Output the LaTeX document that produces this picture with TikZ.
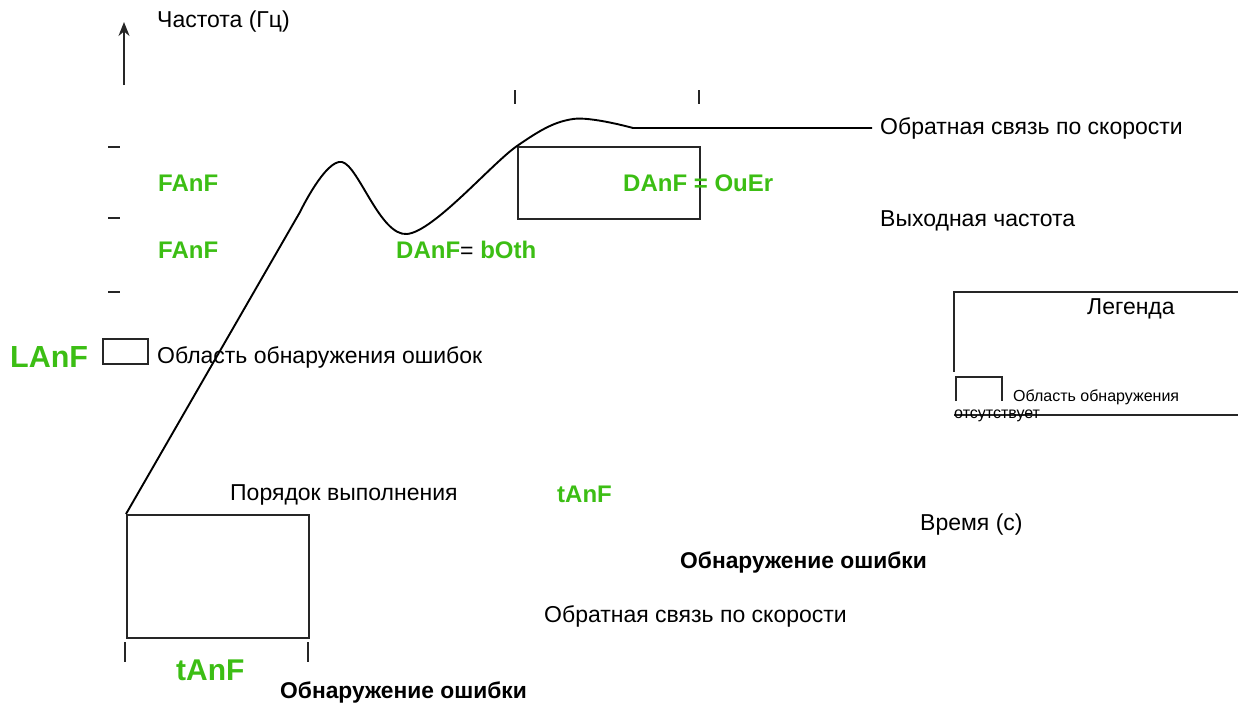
\documentclass[tikz,border=0pt]{standalone}
\usepackage{fontspec}
\setmainfont{Liberation Sans}
\usetikzlibrary{arrows.meta}
\definecolor{grn}{RGB}{60,190,20}
\tikzset{
  lbl/.style={inner sep=0pt, anchor=west, font=\fontsize{23}{27}\selectfont},
  glbl/.style={inner sep=0pt, anchor=west, text=grn, font=\fontsize{24}{28}\selectfont\bfseries},
  blbl/.style={inner sep=0pt, anchor=west, font=\fontsize{22.8}{27}\selectfont\bfseries},
  sml/.style={inner sep=0pt, anchor=west, font=\fontsize{16}{19}\selectfont},
  ln/.style={line width=1.8pt, black!85},
  crv/.style={line width=1.9pt, black},
}
\begin{document}
\begin{tikzpicture}[x=1pt,y=-1pt]
\useasboundingbox (0,0) rectangle (1238,704);
% axis
\coordinate (ab) at (124,85);
\coordinate (at) at (124,22);
\draw[ln,-{Stealth[length=14pt,width=11pt]}] (ab) -- (at);
\node[lbl] (freq) at (157,22) {Частота (Гц)};
% y ticks
\foreach \y in {147,218,292} \draw[ln] (108,\y) -- (120,\y);
% top ticks
\foreach \x in {515,699} \draw[ln] (\x,90) -- (\x,104);
% upper box
\node[draw, ln, minimum width=182pt, minimum height=72pt, anchor=north west, inner sep=0pt] (ubox) at (517,146) {};
% bottom box
\node[draw, ln, minimum width=182pt, minimum height=123pt, anchor=north west, inner sep=0pt] (bbox) at (126,514) {};
\draw[ln] (125,642) -- (125,662);
\draw[ln] (308,642) -- (308,662);
% curve
\coordinate (c0) at (bbox.north west);
\coordinate (c1) at (300,212);
\coordinate (c6) at (633,128);
\coordinate (c7) at (872,128);
\draw[crv] (c0) -- (c1) plot[smooth, tension=0.55] coordinates {(300,212) (342,162) (407,234) (517,146) (573,119) (633,128)} -- (c7);
% labels
\node[lbl] (fb1) at (880,128) {Обратная связь по скорости};
\node[lbl] (vch) at (880,221) {Выходная частота};
\node[glbl] (f1) at (158,183) {FAnF};
\node[glbl] (f2) at (158,250) {FAnF};
\node[glbl] (dboth) at (396,250) {DAnF\textcolor{black}{\mdseries\fontsize{23}{27}\selectfont=} bOth};
\node[glbl] (dover) at (623,183) {DAnF = OuEr};
\node[inner sep=0pt, anchor=west, text=grn, font=\fontsize{30.5}{34}\selectfont\bfseries] (lanf) at (10,357) {LAnF};
\node[draw, ln, minimum width=45pt, minimum height=25pt, anchor=north west, inner sep=0pt] (lbox) at (102,338) {};
\node[lbl] (oblerr) at (157,357) {Область обнаружения ошибок};
% legend
\draw[ln] (1238,292) -- (954,292) -- (954,372);
\draw[ln] (956,401) -- (956,377) -- (1002,377) -- (1002,401);
\draw[ln] (954,415) -- (1238,415);
\node[lbl] (leg) at (1087,309) {Легенда};
\node[sml] (lg1) at (1013,397) {Область обнаружения};
\node[sml] (lg2) at (954,416) {отсутствует};
% lower labels
\node[lbl] (order) at (230,495) {Порядок выполнения};
\node[glbl] (tanf1) at (557,494) {tAnF};
\node[lbl] (time) at (920,525) {Время (с)};
\node[blbl] (det1) at (680,562) {Обнаружение ошибки};
\node[lbl] (fb2) at (544,616) {Обратная связь по скорости};
\node[inner sep=0pt, anchor=west, text=grn, font=\fontsize{30}{34}\selectfont\bfseries] (tanf2) at (176,670) {tAnF};
\node[blbl] (det2) at (280,692) {Обнаружение ошибки};
\end{tikzpicture}
\end{document}
